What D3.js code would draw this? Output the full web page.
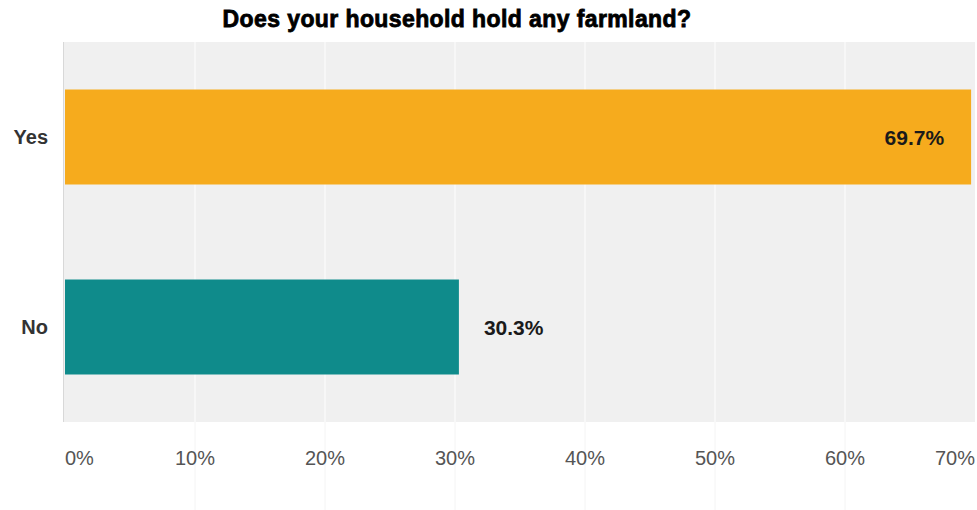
<!DOCTYPE html>
<html>
<head>
<meta charset="utf-8">
<script src="https://cdn.jsdelivr.net/npm/d3@7"></script>
<style>
  html, body { margin: 0; padding: 0; background: #ffffff; }
  svg { display: block; }
</style>
</head>
<body>
<svg id="chart" width="977" height="510"></svg>
<script>
const title = "Does your household hold any farmland?";
const categories = ["Yes", "No"];
const values = [69.7, 30.3];
const barColors = ["#f6ab1d", "#0f8b8b"];
const tickValues = [0, 10, 20, 30, 40, 50, 60, 70];
const tickLabels = ["0%", "10%", "20%", "30%", "40%", "50%", "60%", "70%"];

const W = 977, H = 510;
const margin = { top: 42, right: 2, bottom: 88, left: 64 };
const svg = d3.select("#chart");

const x = d3.scaleLinear().domain([0, 70]).range([margin.left + 1, W - 2]);
const y = d3.scaleBand().domain(categories)
  .range([margin.top, H - margin.bottom])
  .paddingInner(0.5).paddingOuter(0.25);

// plot background
svg.append("rect")
  .attr("x", margin.left - 1).attr("y", margin.top)
  .attr("width", W - margin.right - margin.left + 1)
  .attr("height", H - margin.bottom - margin.top)
  .attr("fill", "#f0f0f0");

// gridlines
svg.append("g").selectAll("line").data(tickValues.slice(1, -1)).join("line")
  .attr("x1", d => x(d)).attr("x2", d => x(d))
  .attr("y1", margin.top).attr("y2", H - margin.bottom)
  .attr("stroke", "#fafafa").attr("stroke-width", 1.5);

// faint gridline continuation below plot
svg.append("g").selectAll("line").data(tickValues.slice(1, -1)).join("line")
  .attr("x1", d => x(d)).attr("x2", d => x(d))
  .attr("y1", H - margin.bottom).attr("y2", H)
  .attr("stroke", "#f4f4f4").attr("stroke-width", 1);

// left axis line
svg.append("line")
  .attr("x1", margin.left - 0.5).attr("x2", margin.left - 0.5)
  .attr("y1", margin.top).attr("y2", H - margin.bottom)
  .attr("stroke", "#d8d8d8").attr("stroke-width", 1);

// bars
svg.append("g").selectAll("rect").data(categories).join("rect")
  .attr("x", x(0))
  .attr("y", d => y(d))
  .attr("width", (d, i) => x(values[i]) - x(0))
  .attr("height", y.bandwidth())
  .attr("fill", (d, i) => barColors[i]);

// value labels
svg.append("g").selectAll("text").data(categories).join("text")
  .attr("x", (d, i) => values[i] > 50 ? x(values[i]) - 27 : x(values[i]) + 25)
  .attr("y", d => y(d) + y.bandwidth() / 2)
  .attr("dy", "0.36em")
  .attr("text-anchor", (d, i) => values[i] > 50 ? "end" : "start")
  .attr("font-family", "'Liberation Sans', Arial, sans-serif")
  .attr("font-weight", "bold")
  .attr("font-size", 21)
  .attr("fill", "#1a1a1a")
  .text((d, i) => values[i].toFixed(1) + "%");

// category labels
svg.append("g").selectAll("text").data(categories).join("text")
  .attr("x", 48)
  .attr("y", d => y(d) + y.bandwidth() / 2)
  .attr("dy", "0.36em")
  .attr("text-anchor", "end")
  .attr("font-family", "'Liberation Sans', Arial, sans-serif")
  .attr("font-weight", "bold")
  .attr("font-size", 20)
  .attr("fill", "#333333")
  .text(d => d);

// x tick labels
svg.append("g").selectAll("text").data(tickValues).join("text")
  .attr("x", d => x(d))
  .attr("y", 465)
  .attr("text-anchor", (d, i) => i === 0 ? "start" : (i === tickValues.length - 1 ? "end" : "middle"))
  .attr("font-family", "'Liberation Sans', Arial, sans-serif")
  .attr("font-size", 20)
  .attr("fill", "#555555")
  .text((d, i) => tickLabels[i]);

// title
svg.append("text")
  .attr("x", 457).attr("y", 27)
  .attr("text-anchor", "middle")
  .attr("font-family", "'Liberation Sans', Arial, sans-serif")
  .attr("font-weight", "bold")
  .attr("font-size", 23)
  .attr("letter-spacing", 0.4)
  .attr("fill", "#000000")
  .attr("stroke", "#000000").attr("stroke-width", 0.8)
  .text(title);
</script>
</body>
</html>
